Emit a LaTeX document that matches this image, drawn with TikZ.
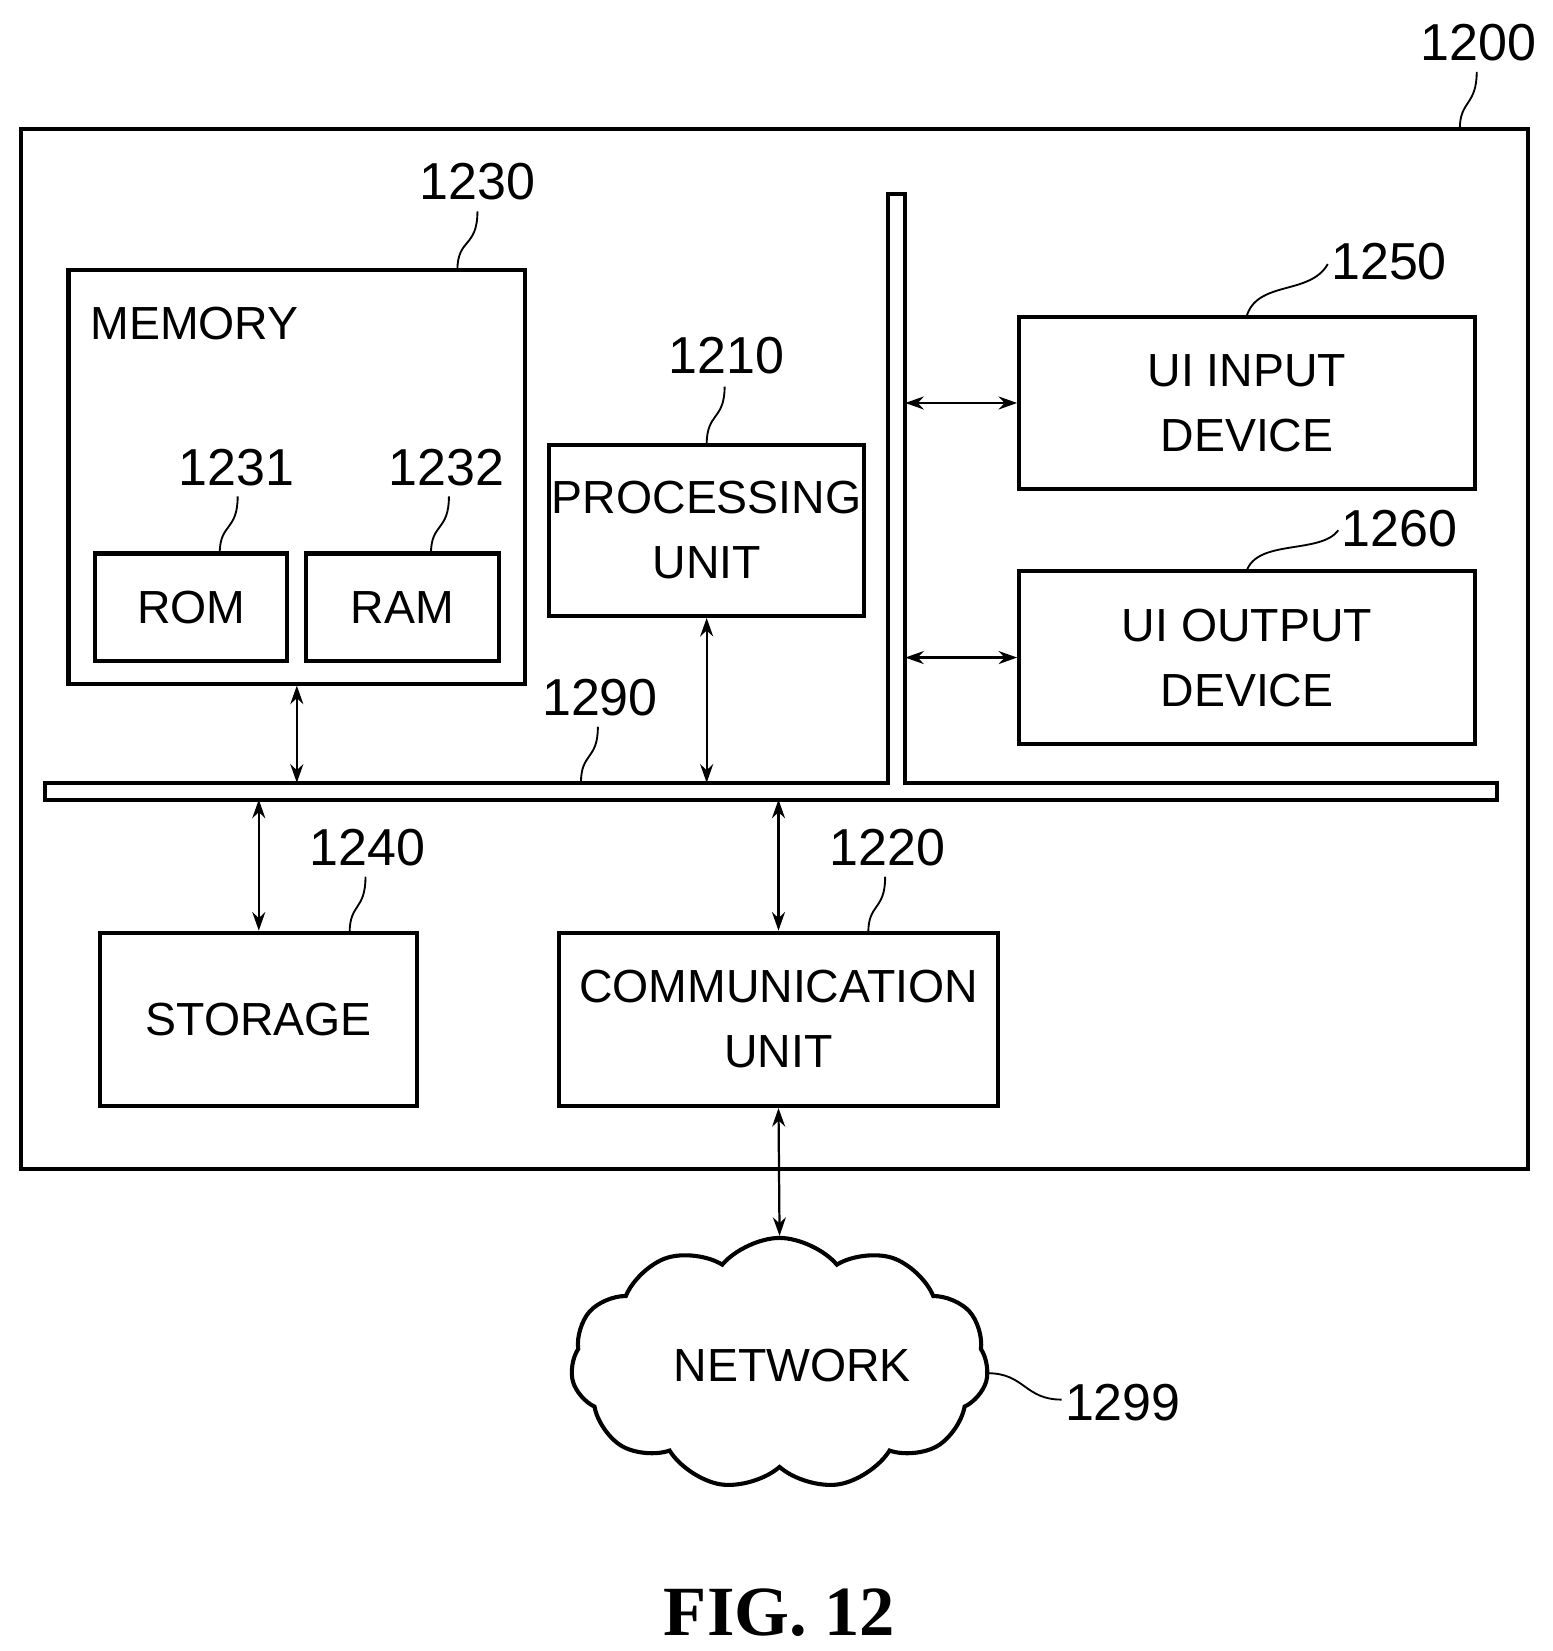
\documentclass[tikz,border=0pt]{standalone}
\usepackage{fontspec}
\setmainfont{Liberation Sans}
\newfontfamily\figfont{Liberation Serif}
\usetikzlibrary{arrows.meta,shapes.symbols}

\begin{document}
\begin{tikzpicture}[x=0.01cm, y=-0.01cm]
\tikzstyle{block}=[draw=black, line width=1.1pt, align=center, font=\fontsize{12.5}{17.5}\selectfont, inner sep=0pt]
\tikzstyle{plain}=[align=center, font=\fontsize{12.5}{17.5}\selectfont, inner sep=0pt]
\tikzstyle{refnum}=[font=\fontsize{14}{16}\selectfont]
\tikzstyle{leader}=[line width=0.5pt]
\tikzstyle{link}=[line width=0.6pt, {Stealth[length=5pt,width=3.5pt]}-{Stealth[length=5pt,width=3.5pt]}]

\useasboundingbox (0,0) rectangle (1470,1563);

% outer device
\node[block, minimum width=14.26cm, minimum height=9.84cm] (dev) at (733,614) {};
\node[refnum] (n1200) at (1400,40) {1200};
\draw[leader] (1398,68) .. controls (1398,100) and (1382,95) .. (1382,122);

% memory with rom and ram
\node[block, minimum width=4.32cm, minimum height=3.91cm] (mem) at (281,451.5) {};
\node[plain, anchor=west] (memtxt) at (85,306) {MEMORY};
\node[block, minimum width=1.82cm, minimum height=1.02cm] (rom) at (181,575) {ROM};
\node[block, minimum width=1.82cm, minimum height=1.02cm] (ram) at (381,575) {RAM};
\node[refnum] (n1230) at (452,172) {1230};
\node[refnum] (n1231) at (224,443) {1231};
\node[refnum] (n1232) at (423,443) {1232};
\draw[leader] (452,200) .. controls (452,235) and (433,225) .. (433,256);
\draw[leader] (225,470) .. controls (225,503) and (208,495) .. (208,524);
\draw[leader] (425,470) .. controls (425,503) and (408,495) .. (408,524);

% processing unit
\node[block, minimum width=2.98cm, minimum height=1.62cm] (proc) at (669,502) {PROCESSING\\UNIT};
\node[refnum] (n1210) at (688,337) {1210};
\draw[leader] (686,366) .. controls (686,398) and (669,390) .. (669,421);

% ui devices
\node[block, minimum width=4.31cm, minimum height=1.63cm] (uiin) at (1180.5,381.5) {UI INPUT\\DEVICE};
\node[block, minimum width=4.31cm, minimum height=1.63cm] (uiout) at (1180.5,622.5) {UI OUTPUT\\DEVICE};
\node[refnum] (n1250) at (1315,248) {1250};
\node[refnum] (n1260) at (1325,500) {1260};
\draw[leader] (1257,250) .. controls (1240,280) and (1190,265) .. (1180,300);
\draw[leader] (1267,502) .. controls (1250,525) and (1190,510) .. (1180,541);

% bus
\draw[line width=1.1pt] (43,741) -- (841,741) -- (841,184) -- (857,184) -- (857,741)
  -- (1417,741) -- (1417,757) -- (43,757) -- cycle;
\coordinate (bustop) at (0,741);
\coordinate (busbot) at (0,757);
\coordinate (vbus) at (857,0);
\node[refnum] (n1290) at (568,660) {1290};
\draw[leader] (566,688) .. controls (566,720) and (550,712) .. (550,741);

% storage and communication
\node[block, minimum width=3.00cm, minimum height=1.64cm] (stor) at (245,965) {STORAGE};
\node[block, minimum width=4.16cm, minimum height=1.64cm] (comm) at (737,965) {COMMUNICATION\\UNIT};
\node[refnum] (n1240) at (348,802) {1240};
\node[refnum] (n1220) at (840,802) {1220};
\draw[leader] (346,830) .. controls (346,862) and (331,855) .. (331,883);
\draw[leader] (838,830) .. controls (838,862) and (822,855) .. (822,883);

% network
\node[cloud, draw, line width=1.1pt, cloud puffs=11, cloud puff arc=100, aspect=1.6,
  minimum width=3.95cm, minimum height=2.38cm, inner sep=0pt] (net) at (738,1291) {};
\node[plain] (nettxt) at (750,1293) {NETWORK};
\node[refnum] (n1299) at (1063,1328) {1299};
\draw[leader] (935,1300) .. controls (970,1300) and (970,1325) .. (1005,1325);

% links
\draw[link] (mem.south) -- (mem.south |- bustop);
\draw[link] (proc.south) -- (proc.south |- bustop);
\draw[link] (uiin.west -| vbus) -- (uiin.west);
\draw[link] (uiout.west -| vbus) -- (uiout.west);
\draw[link] (stor.north |- busbot) -- (stor.north);
\draw[link] (comm.north |- busbot) -- (comm.north);
\draw[link] (comm.south) -- (net.north);

\node[font=\figfont\bfseries\fontsize{19}{21}\selectfont] (fig) at (738,1527) {FIG. 12};
\end{tikzpicture}
\end{document}
